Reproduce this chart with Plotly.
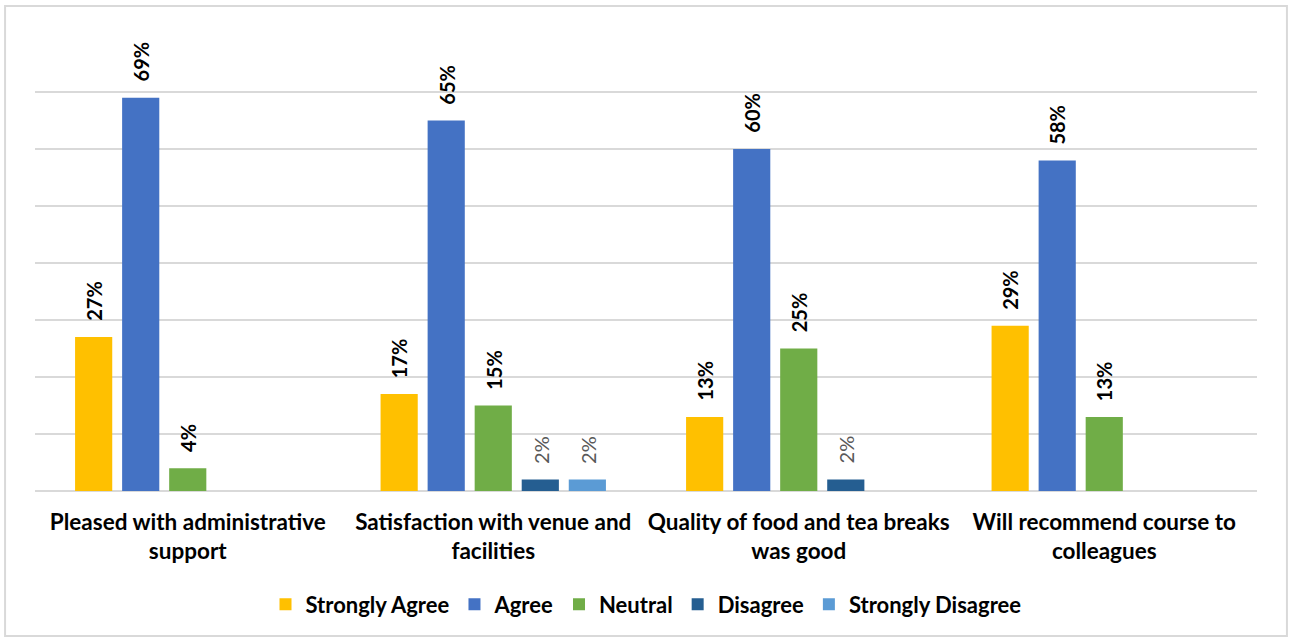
import plotly.graph_objects as go

categories = ["Pleased with administrative<br>support",
              "Satisfaction with venue and<br>facilities",
              "Quality of food and tea breaks<br>was good",
              "Will recommend course to<br>colleagues"]
series_names = ["Strongly Agree", "Agree", "Neutral", "Disagree", "Strongly Disagree"]
strongly_agree = [27, 17, 13, 29]
agree = [69, 65, 60, 58]
neutral = [4, 15, 25, 13]
disagree = [None, 2, 2, None]
strongly_disagree = [None, 2, None, None]
colors = ["#FFC000", "#4472C4", "#70AD47", "#255E91", "#5B9BD5"]

all_series = [strongly_agree, agree, neutral, disagree, strongly_disagree]
FONT = "Lato"
bargap = 0.23
bargroupgap = 0.21

fig = go.Figure()
for name, vals, col in zip(series_names, all_series, colors):
    fig.add_trace(go.Bar(name=name, x=list(range(len(categories))), y=vals,
                         marker=dict(color=col, line=dict(width=0)),
                         hoverinfo="skip"))

slot = (1 - bargap) / len(all_series)
annotations = []
for j, vals in enumerate(all_series):
    for i, v in enumerate(vals):
        if v is None:
            continue
        small = v <= 2
        annotations.append(dict(
            x=i + (j - (len(all_series) - 1) / 2) * slot, y=v, xref="x", yref="y",
            text=f"{v}%", textangle=-90, showarrow=False,
            yanchor="bottom", xanchor="center", yshift=14,
            font=dict(family=FONT, size=20,
                      color="#595959" if small else "#000000",
                      weight="normal" if small else "bold")))

# outer chart border
fig.add_shape(type="rect", xref="paper", yref="paper",
              x0=-0.0245, x1=1.0245, y0=-0.318, y1=1.0636,
              line=dict(color="#D9D9D9", width=2), fillcolor="rgba(0,0,0,0)", layer="below")

fig.update_layout(
    width=1293, height=637,
    barmode="group", bargap=bargap, bargroupgap=bargroupgap,
    plot_bgcolor="white", paper_bgcolor="white",
    margin=dict(l=35, r=36, t=35, b=146, pad=0, autoexpand=False),
    font=dict(family=FONT, color="#000000"),
    annotations=annotations,
    xaxis=dict(tickmode="array", tickvals=list(range(len(categories))), ticktext=categories,
               range=[-0.5, len(categories) - 0.5], showgrid=False, showline=False,
               ticks="", automargin=False, ticklabelstandoff=15,
               tickfont=dict(family=FONT, size=22.5, color="#000000", weight="bold")),
    yaxis=dict(range=[0, 80], dtick=10, showticklabels=False, showgrid=True,
               gridcolor="#D9D9D9", gridwidth=1.5, zeroline=True, zerolinecolor="#D9D9D9",
               zerolinewidth=1.5, showline=False, ticks="", automargin=False),
    legend=dict(orientation="h", x=0.5, xanchor="center", y=-0.203, yanchor="top",
                font=dict(family=FONT, size=22, color="#000000", weight="bold"),
                itemwidth=30, tracegroupgap=0),
    showlegend=True,
)

fig.write_html("out.html")
